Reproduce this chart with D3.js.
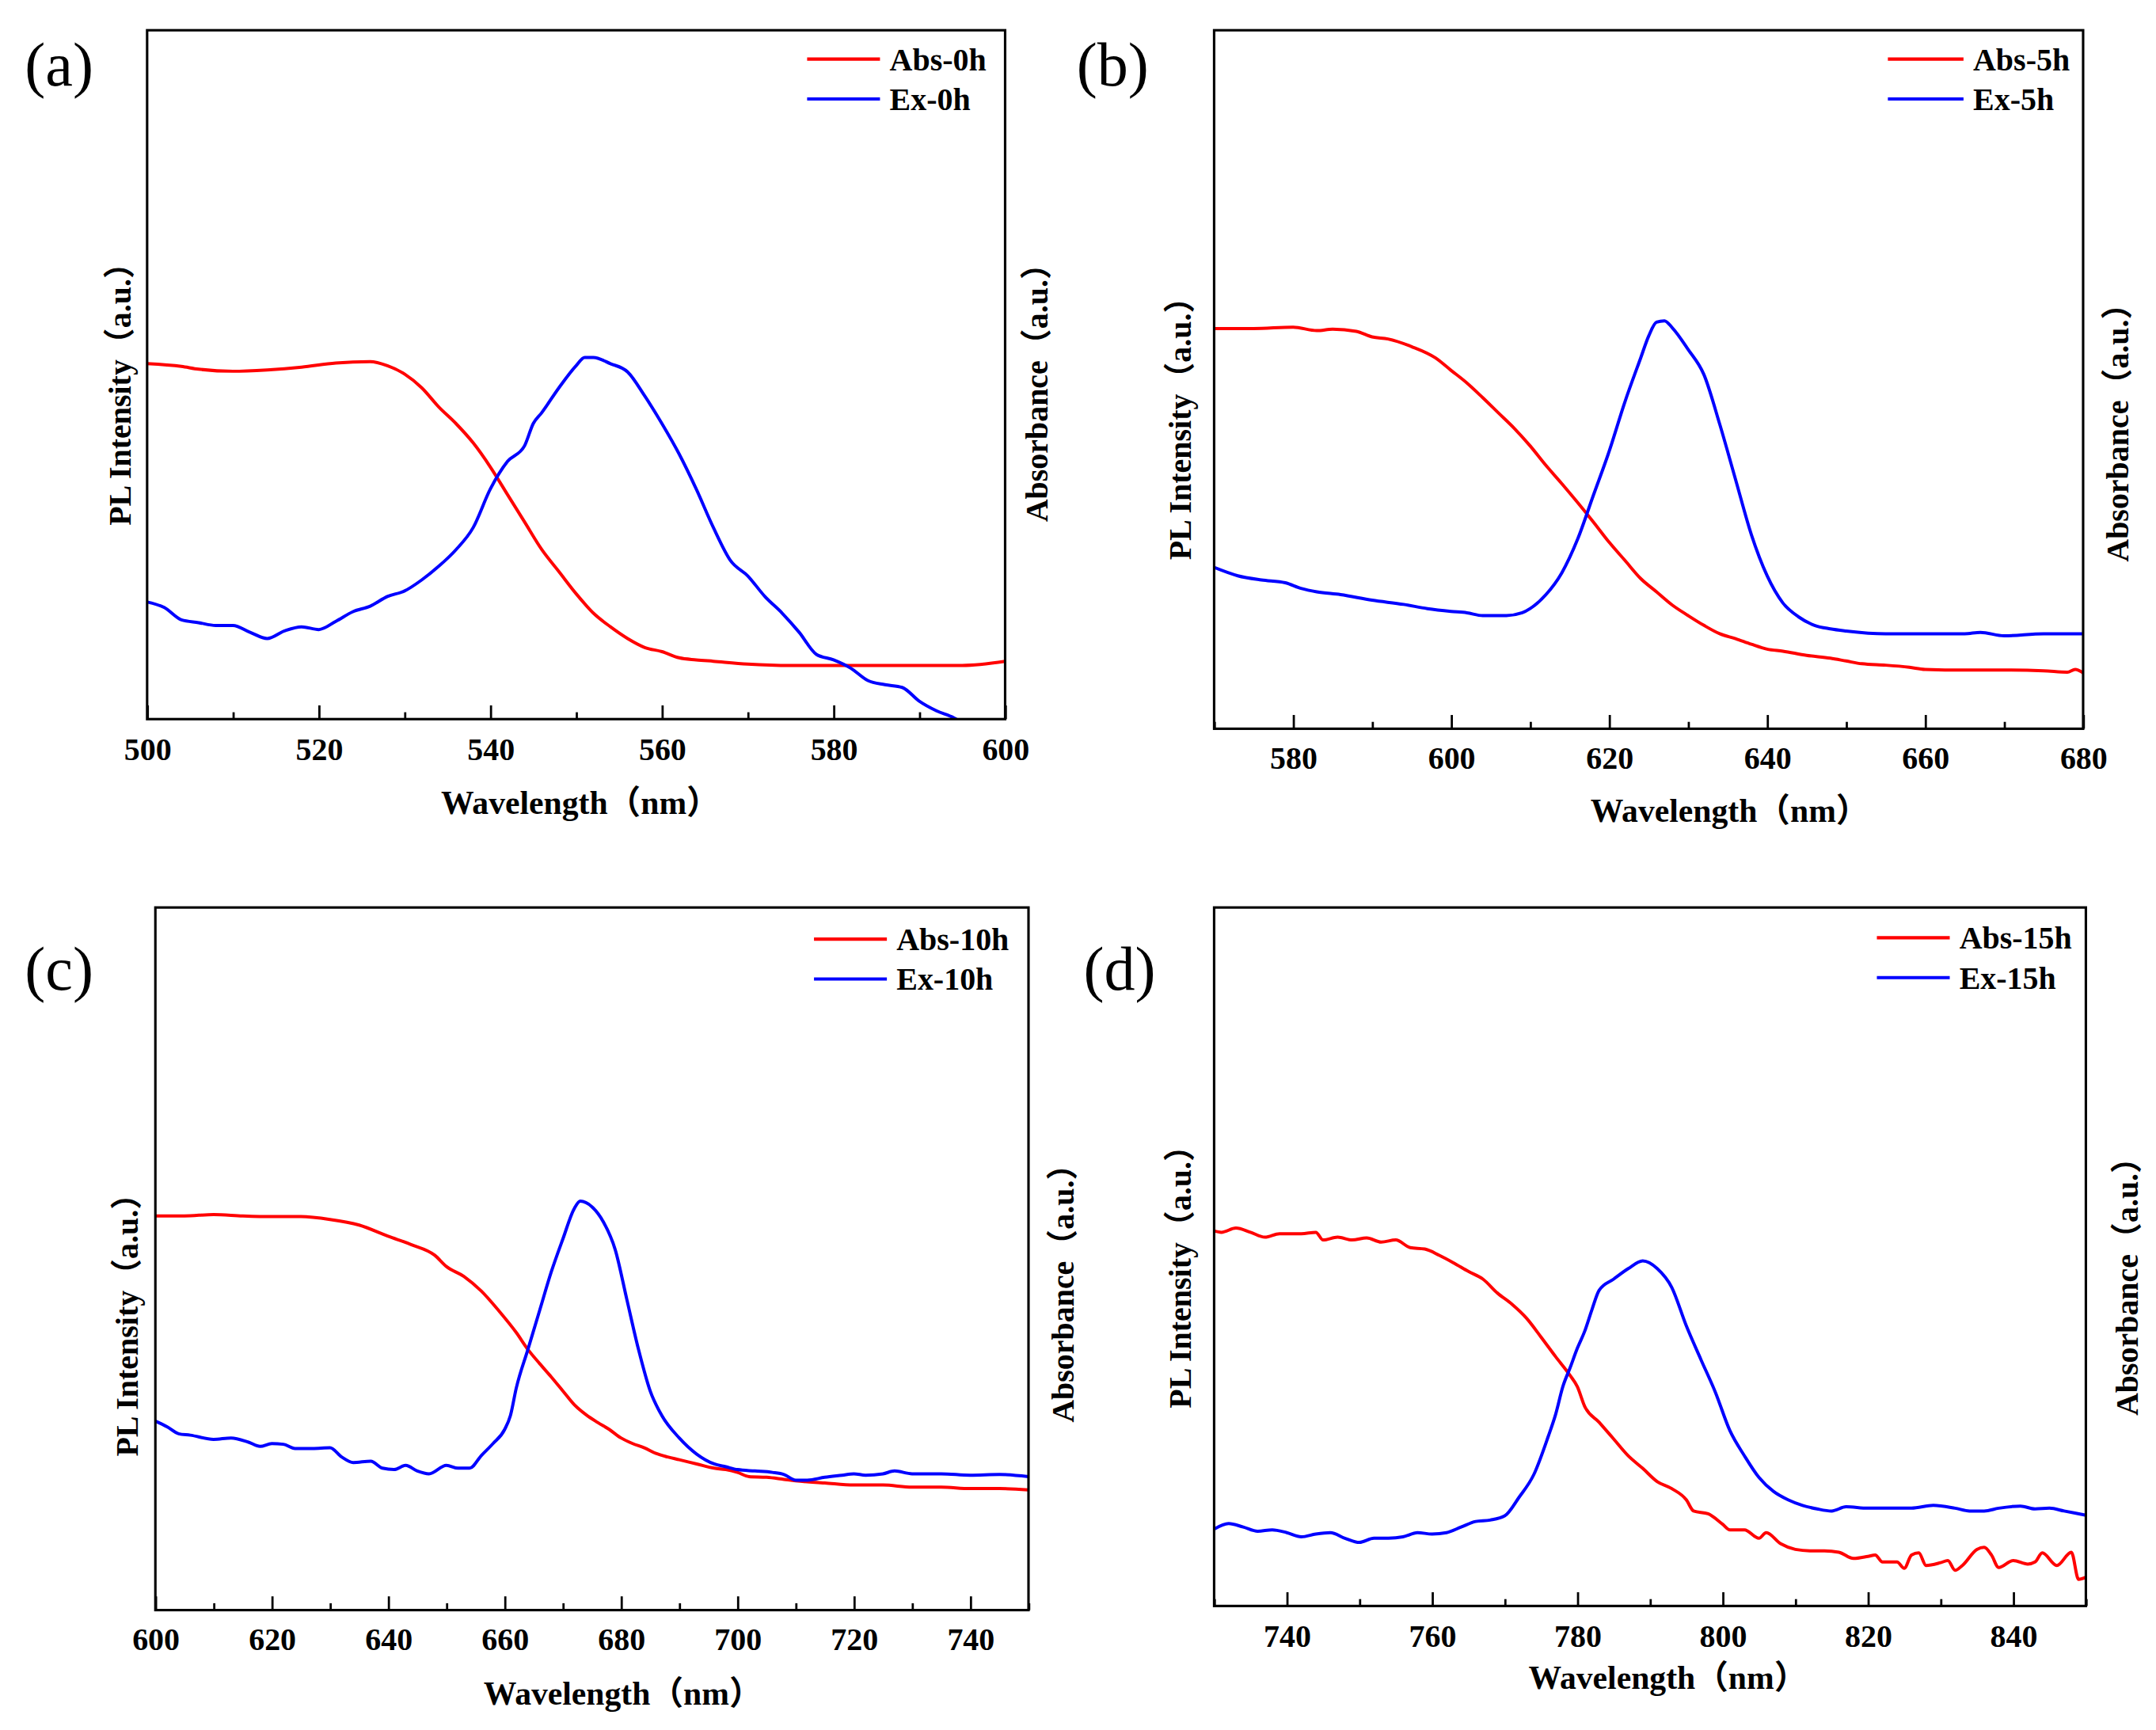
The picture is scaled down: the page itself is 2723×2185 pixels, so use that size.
<!DOCTYPE html>
<html>
<head>
<meta charset="utf-8">
<script src="https://cdn.jsdelivr.net/npm/d3@7"></script>
<style>
  html, body { margin: 0; padding: 0; background: #fff; }
  svg text { font-family: "Liberation Serif", "Noto Sans CJK SC", serif; }
</style>
</head>
<body>
<script>
// spectra, wavelength (nm) vs normalised intensity (a.u.)
var abs0h = [[500,0.516],[504,0.512],[506,0.508],[510,0.505],[514,0.507],[518,0.511],[522,0.517],[526,0.519],[528,0.513],[530,0.501],[532,0.481],[534,0.453],[536,0.429],[538,0.401],[540,0.366],[542,0.326],[544,0.286],[546,0.246],[548,0.214],[550,0.182],[552,0.154],[554,0.134],[556,0.117],[558,0.104],[560,0.098],[562,0.089],[564,0.086],[566,0.084],[570,0.080],[575,0.078],[580,0.078],[585,0.078],[590,0.078],[595,0.078],[600,0.084]]
var ex0h = [[500,0.170],[502,0.162],[504,0.144],[506,0.140],[508,0.136],[510,0.136],[512,0.126],[514,0.117],[516,0.128],[518,0.134],[520,0.130],[522,0.142],[524,0.156],[526,0.164],[528,0.178],[530,0.186],[532,0.202],[534,0.222],[536,0.246],[538,0.278],[540,0.334],[542,0.374],[544,0.397],[545,0.429],[546,0.445],[548,0.481],[550,0.513],[551,0.525],[552,0.525],[554,0.516],[556,0.504],[558,0.469],[560,0.429],[562,0.385],[564,0.334],[566,0.278],[568,0.230],[570,0.208],[572,0.178],[574,0.154],[576,0.126],[578,0.094],[580,0.086],[582,0.074],[584,0.056],[586,0.050],[588,0.046],[590,0.026],[592,0.012],[594,0.002],[596,-0.015]]

var abs5h = [[570,0.573],[575,0.573],[580,0.575],[583,0.570],[585,0.572],[588,0.569],[590,0.561],[592,0.558],[595,0.547],[598,0.531],[600,0.513],[602,0.495],[604,0.474],[606,0.452],[608,0.430],[610,0.405],[612,0.377],[614,0.351],[616,0.324],[618,0.296],[620,0.267],[622,0.241],[624,0.215],[626,0.196],[628,0.177],[630,0.162],[632,0.148],[634,0.136],[636,0.129],[638,0.121],[640,0.114],[642,0.111],[645,0.105],[648,0.101],[650,0.097],[652,0.093],[655,0.091],[658,0.088],[660,0.085],[665,0.084],[670,0.084],[675,0.083],[678,0.081],[679,0.085],[680,0.080]]
var ex5h = [[570,0.231],[573,0.219],[576,0.213],[579,0.209],[581,0.201],[583,0.196],[586,0.192],[590,0.184],[594,0.178],[597,0.172],[600,0.168],[602,0.166],[604,0.162],[607,0.162],[609,0.166],[610,0.172],[612,0.192],[614,0.223],[616,0.271],[618,0.334],[620,0.397],[622,0.468],[624,0.531],[625,0.562],[626,0.582],[627,0.584],[628,0.574],[630,0.543],[632,0.507],[634,0.436],[636,0.357],[638,0.278],[640,0.219],[642,0.180],[644,0.160],[646,0.148],[648,0.143],[650,0.140],[655,0.136],[660,0.136],[665,0.136],[667,0.138],[670,0.133],[675,0.136],[680,0.136]]

var abs10h = [[600,0.561],[605,0.561],[610,0.563],[615,0.561],[620,0.560],[625,0.560],[630,0.556],[635,0.548],[640,0.532],[644,0.520],[648,0.505],[650,0.489],[653,0.475],[656,0.454],[659,0.426],[662,0.395],[664,0.371],[666,0.351],[668,0.332],[670,0.312],[672,0.292],[674,0.278],[676,0.267],[678,0.257],[680,0.245],[682,0.237],[684,0.231],[686,0.223],[688,0.218],[690,0.214],[693,0.208],[696,0.202],[698,0.200],[700,0.196],[702,0.190],[705,0.189],[708,0.186],[710,0.184],[715,0.181],[720,0.178],[725,0.178],[730,0.175],[735,0.175],[740,0.173],[745,0.173],[750,0.171]]
var ex10h = [[600,0.269],[602,0.261],[604,0.251],[606,0.249],[610,0.243],[613,0.245],[616,0.239],[618,0.233],[620,0.237],[622,0.236],[624,0.230],[627,0.230],[630,0.231],[632,0.218],[634,0.210],[637,0.212],[639,0.202],[641,0.200],[643,0.206],[645,0.198],[647,0.194],[650,0.206],[652,0.202],[654,0.202],[656,0.220],[658,0.237],[660,0.257],[661,0.277],[662,0.316],[664,0.371],[666,0.426],[668,0.481],[670,0.528],[672,0.572],[673,0.582],[675,0.574],[677,0.552],[679,0.513],[681,0.442],[683,0.371],[685,0.312],[687,0.277],[690,0.245],[693,0.222],[696,0.208],[698,0.204],[700,0.200],[703,0.198],[706,0.196],[708,0.193],[710,0.185],[712,0.185],[715,0.189],[718,0.192],[720,0.194],[722,0.192],[725,0.194],[727,0.198],[730,0.194],[735,0.194],[740,0.192],[745,0.193],[750,0.190]]

var abs15h = [[730,0.537],[731,0.535],[733,0.541],[735,0.535],[737,0.528],[739,0.533],[742,0.533],[744,0.535],[745,0.524],[747,0.528],[749,0.524],[751,0.527],[753,0.521],[755,0.524],[757,0.513],[759,0.511],[761,0.502],[763,0.491],[765,0.479],[767,0.468],[769,0.448],[771,0.432],[773,0.412],[775,0.385],[777,0.357],[779,0.330],[780,0.314],[781,0.286],[783,0.263],[785,0.239],[787,0.215],[789,0.197],[791,0.178],[793,0.168],[795,0.152],[796,0.136],[798,0.132],[800,0.117],[801,0.109],[803,0.109],[805,0.097],[806,0.105],[808,0.089],[810,0.081],[812,0.079],[814,0.079],[816,0.077],[818,0.068],[820,0.071],[821,0.073],[822,0.063],[824,0.063],[825,0.054],[826,0.073],[827,0.076],[828,0.058],[830,0.062],[831,0.065],[832,0.051],[833,0.058],[835,0.081],[836,0.084],[837,0.073],[838,0.055],[840,0.065],[842,0.060],[843,0.063],[844,0.076],[846,0.058],[848,0.077],[849,0.038],[850,0.041]]
var ex15h = [[730,0.110],[732,0.118],[734,0.113],[736,0.107],[738,0.109],[740,0.105],[742,0.099],[744,0.103],[746,0.105],[748,0.097],[750,0.091],[752,0.097],[754,0.097],[756,0.099],[758,0.105],[760,0.103],[762,0.105],[764,0.113],[766,0.121],[768,0.123],[770,0.129],[772,0.156],[774,0.188],[776,0.243],[777,0.274],[778,0.314],[779,0.341],[780,0.369],[781,0.393],[782,0.424],[783,0.452],[785,0.468],[787,0.483],[789,0.494],[791,0.483],[793,0.456],[795,0.401],[797,0.353],[799,0.306],[801,0.251],[803,0.215],[805,0.184],[807,0.164],[809,0.152],[811,0.144],[813,0.139],[815,0.136],[817,0.142],[820,0.140],[823,0.140],[826,0.140],[829,0.144],[832,0.140],[834,0.136],[836,0.136],[838,0.140],[841,0.143],[843,0.139],[845,0.140],[847,0.136],[850,0.130]]

var panelTags = ['(a)', '(b)', '(c)', '(d)']
var hours = ['0h', '5h', '10h', '15h']
var xDomains = [[500, 600], [570, 680], [600, 750], [730, 850]]
var majorTicks = [
    [500, 520, 540, 560, 580, 600],
    [580, 600, 620, 640, 660, 680],
    [600, 620, 640, 660, 680, 700, 720, 740],
    [740, 760, 780, 800, 820, 840]
]
var absSeries = [abs0h, abs5h, abs10h, abs15h]
var exSeries = [ex0h, ex5h, ex10h, ex15h]

// layout, in units of a 1568 wide picture
var panels = [
    {left: 107, right: 731, top: 22, bottom: 523, yl: 95, ylc: 281, yr: 762, yrc: 280, xt: 422, xtb: 592, tb: 553, tag: [18, 62], leg: [587, 640, 43]},
    {left: 883, right: 1515, top: 22, bottom: 530, yl: 866, ylc: 306, yr: 1548, yrc: 309, xt: 1258, xtb: 598, tb: 559, tag: [783, 62], leg: [1373, 1428, 43]},
    {left: 113, right: 748, top: 660, bottom: 1171, yl: 100, ylc: 958, yr: 781, yrc: 935, xt: 453, xtb: 1240, tb: 1200, tag: [18, 720], leg: [592, 645, 683]},
    {left: 883, right: 1517, top: 660, bottom: 1168, yl: 866, ylc: 923, yr: 1555, yrc: 930, xt: 1213, xtb: 1228, tb: 1198, tag: [788, 720], leg: [1365, 1418, 682]}
]

var svg = d3.select('body').append('svg')
    .attr('width', 2723)
    .attr('height', 2185)
    .attr('viewBox', '0 0 1568 1258.2')

var defs = svg.append('defs')

panels.forEach(function (p, i) {
    var x = d3.scaleLinear().domain(xDomains[i]).range([p.left, p.right])
    var y = d3.scaleLinear().domain([0, 1]).range([p.bottom, p.top])
    var g = svg.append('g')

    defs.append('clipPath').attr('id', 'clip' + i)
        .append('rect')
        .attr('x', p.left).attr('y', p.top)
        .attr('width', p.right - p.left).attr('height', p.bottom - p.top)

    var line = d3.line()
        .x(d => x(d[0]))
        .y(d => y(d[1]))
        .curve(d3.curveMonotoneX)

    var plot = g.append('g').attr('clip-path', 'url(#clip' + i + ')')
    plot.append('path').datum(absSeries[i])
        .attr('d', line).attr('fill', 'none')
        .attr('stroke', '#ff0000').attr('stroke-width', 2.3)
        .attr('stroke-linejoin', 'round')
    plot.append('path').datum(exSeries[i])
        .attr('d', line).attr('fill', 'none')
        .attr('stroke', '#0000ff').attr('stroke-width', 2.3)
        .attr('stroke-linejoin', 'round')

    // minor ticks every 10 nm, inward
    var minors = d3.range(xDomains[i][0], xDomains[i][1] + 1, 10)
        .filter(v => majorTicks[i].indexOf(v) < 0)
    g.append('g')
        .attr('transform', 'translate(0,' + p.bottom + ')')
        .call(d3.axisBottom(x).tickValues(minors).tickSize(-5).tickFormat(''))
        .call(a => a.select('.domain').remove())
        .call(a => a.selectAll('line').attr('stroke', '#000').attr('stroke-width', 1.6))

    var ax = g.append('g')
        .attr('transform', 'translate(0,' + p.bottom + ')')
        .call(d3.axisBottom(x).tickValues(majorTicks[i]).tickSize(-10).tickPadding(0).tickFormat(d3.format('d')))
    ax.select('.domain').remove()
    ax.selectAll('line').attr('stroke', '#000').attr('stroke-width', 1.6)
    ax.selectAll('text')
        .attr('y', p.tb - p.bottom).attr('dy', null)
        .attr('fill', '#000')
        .style('font-size', '23px').style('font-weight', 'bold')
        .style('font-family', '"Liberation Serif", serif')

    // frame
    g.append('rect')
        .attr('x', p.left).attr('y', p.top)
        .attr('width', p.right - p.left).attr('height', p.bottom - p.top)
        .attr('fill', 'none').attr('stroke', '#000').attr('stroke-width', 1.8)

    g.append('text')
        .attr('x', p.xt).attr('y', p.xtb)
        .attr('text-anchor', 'middle')
        .style('font-size', '24px').style('font-weight', 'bold')
        .text('Wavelength（nm）')

    g.append('text')
        .attr('transform', 'translate(' + p.yl + ',' + p.ylc + ') rotate(-90)')
        .attr('text-anchor', 'middle')
        .style('font-size', '23px').style('font-weight', 'bold')
        .text('PL Intensity（a.u.）')

    g.append('text')
        .attr('transform', 'translate(' + p.yr + ',' + p.yrc + ') rotate(-90)')
        .attr('text-anchor', 'middle')
        .style('font-size', '23px').style('font-weight', 'bold')
        .text('Absorbance（a.u.）')

    g.append('text')
        .attr('x', p.tag[0]).attr('y', p.tag[1])
        .style('font-size', '45px')
        .text(panelTags[i])

    // legend
    var names = ['Abs-' + hours[i], 'Ex-' + hours[i]]
    var colors = ['#ff0000', '#0000ff']
    names.forEach(function (n, k) {
        var ly = p.leg[2] + k * 29
        g.append('line')
            .attr('x1', p.leg[0]).attr('x2', p.leg[1])
            .attr('y1', ly).attr('y2', ly)
            .attr('stroke', colors[k]).attr('stroke-width', 2.4)
        g.append('text')
            .attr('x', p.leg[1] + 7).attr('y', ly + 8)
            .style('font-size', '23px').style('font-weight', 'bold')
            .text(n)
    })
})
</script>
</body>
</html>
